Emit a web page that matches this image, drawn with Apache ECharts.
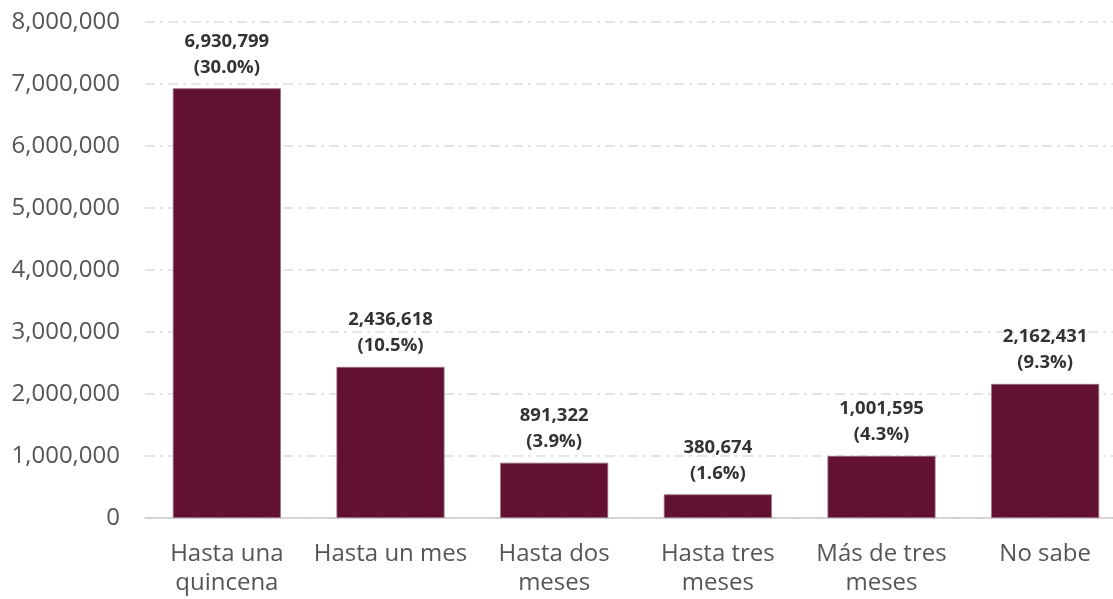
<!DOCTYPE html>
<html>
<head>
<meta charset="utf-8">
<script src="https://cdn.jsdelivr.net/npm/echarts@6/dist/echarts.min.js"></script>
<style>
  html, body { margin: 0; padding: 0; background: #fff; }
  #chart { width: 1113px; height: 599px; }
</style>
</head>
<body>
<div id="chart"></div>
<script>
var categories = ['Hasta una\nquincena', 'Hasta un mes', 'Hasta dos\nmeses', 'Hasta tres\nmeses', 'Más de tres\nmeses', 'No sabe'];
var values = [6930799, 2436618, 891322, 380674, 1001595, 2162431];
var percents = ['30.0%', '10.5%', '3.9%', '1.6%', '4.3%', '9.3%'];

var chart = echarts.init(document.getElementById('chart'));

function fmt(n) {
    return n.toLocaleString('en-US');
}

chart.setOption({
    animation: false,
    grid: { left: 145, right: -14, top: 22, bottom: 81, outerBoundsMode: 'none' },
    xAxis: {
        type: 'category',
        data: categories,
        axisTick: { show: false },
        axisLine: { lineStyle: { color: '#cccccc', width: 1.5 } },
        axisLabel: {
            color: '#555555',
            fontFamily: 'Open Sans',
            fontSize: 24,
            lineHeight: 29,
            margin: 22,
            interval: 0
        }
    },
    yAxis: {
        type: 'value',
        min: 0,
        max: 8000000,
        interval: 1000000,
        axisLabel: {
            color: '#555555',
            fontFamily: 'Open Sans',
            fontSize: 24,
            margin: 25,
            formatter: function (v) { return fmt(v); }
        },
        splitLine: {
            lineStyle: { color: '#dddddd', width: 1.5, type: [10, 5, 3, 5] }
        }
    },
    series: [{
        type: 'bar',
        data: values,
        barWidth: 108,
        itemStyle: { color: '#621132', borderColor: '#9a6a7c', borderWidth: 0.8 },
        label: {
            show: true,
            position: 'top',
            distance: 8,
            color: '#333333',
            fontFamily: 'Open Sans',
            fontWeight: 'bold',
            fontSize: 18.5,
            lineHeight: 26,
            formatter: function (p) {
                return fmt(p.value) + '\n(' + percents[p.dataIndex] + ')';
            }
        }
    }]
});
</script>
</body>
</html>
